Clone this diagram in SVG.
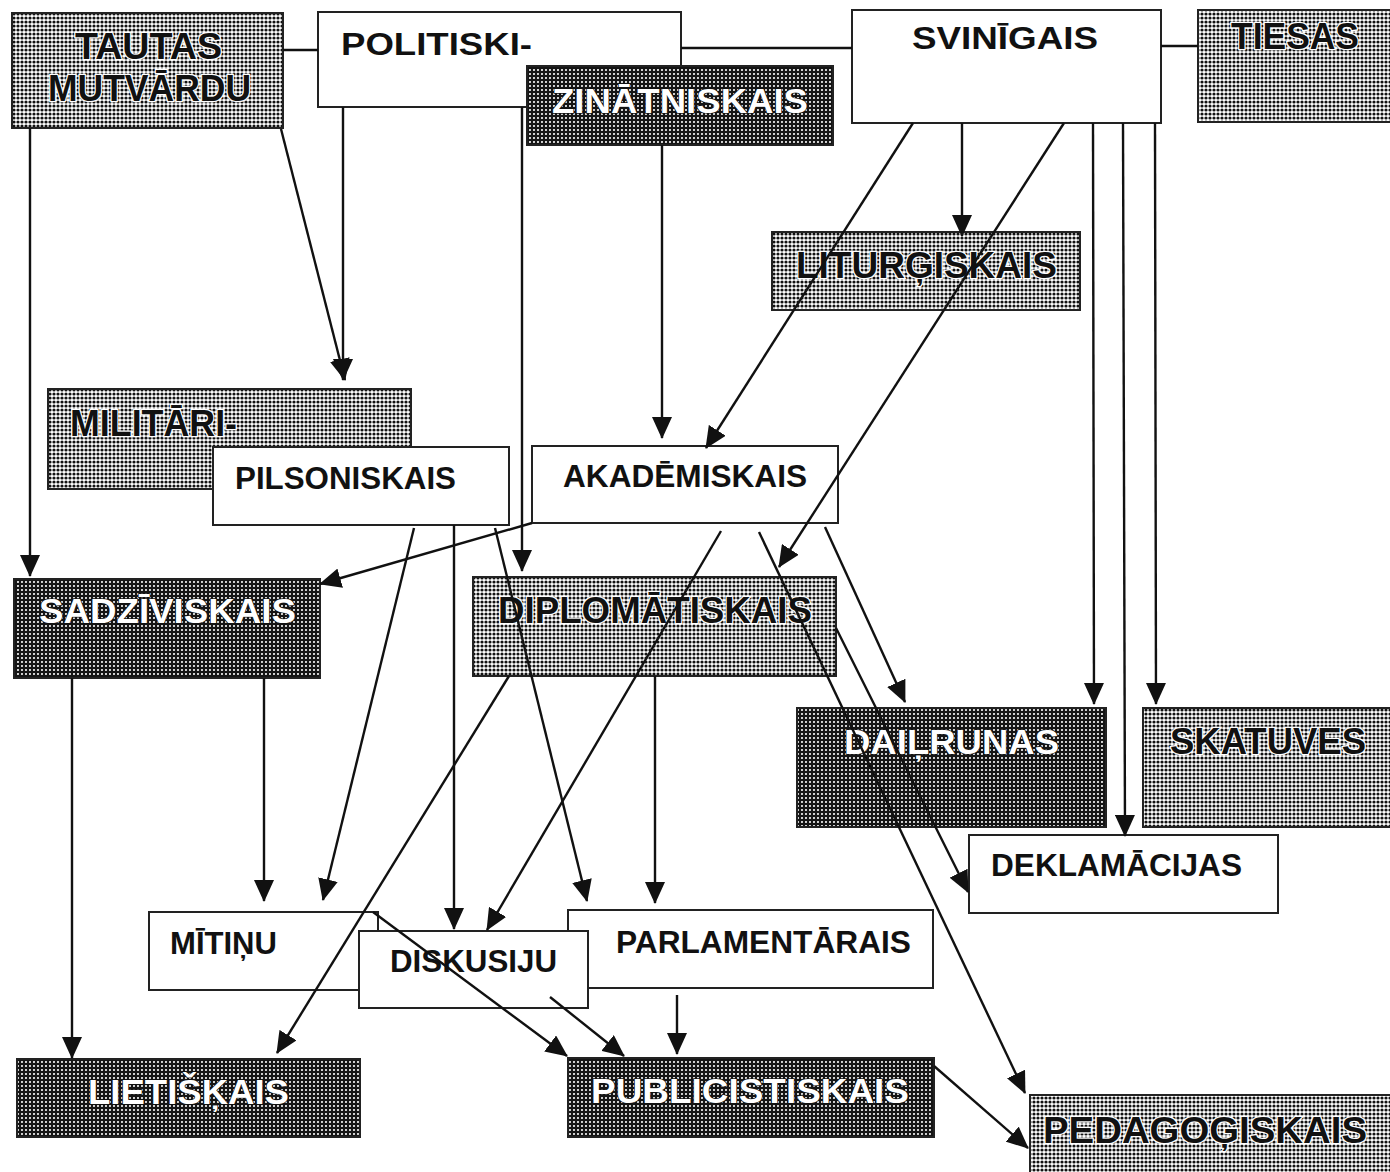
<svg xmlns="http://www.w3.org/2000/svg" width="1390" height="1172" viewBox="0 0 1390 1172">
<defs>
<pattern id="dotsL" width="4" height="4" patternUnits="userSpaceOnUse"><rect width="4" height="4" fill="#fff"/><circle cx="2" cy="2" r="1.6" fill="#111"/></pattern>
<pattern id="dotsD" width="4" height="4" patternUnits="userSpaceOnUse"><rect width="4" height="4" fill="#151515"/><circle cx="2" cy="2" r="1.05" fill="#fff"/></pattern>
<marker id="ah" markerUnits="userSpaceOnUse" markerWidth="22" markerHeight="20" viewBox="0 0 22 20" refX="21" refY="10" orient="auto"><path d="M0,0 L22,10 L0,20 z" fill="#111"/></marker>
</defs>
<style>
.w{fill:#fff;stroke:#222;stroke-width:2}
.l{fill:url(#dotsL);stroke:#222;stroke-width:2}
.d{fill:url(#dotsD);stroke:#222;stroke-width:2}
text{font-family:"Liberation Sans",Arial,sans-serif;font-weight:bold}
.tw{fill:#111;font-size:31px}
.tl{fill:#111;font-size:37px;stroke:#fff;stroke-width:2.5;paint-order:stroke}
.td{fill:#fff;font-size:35px;stroke:#111;stroke-width:1.5;paint-order:stroke}
.c line{stroke:#111;stroke-width:2.4}
.c .a{marker-end:url(#ah)}
</style>
<rect width="1390" height="1172" fill="#fff"/>
<g id="tautas"><rect class="l" x="12" y="13" width="271" height="115"/><text class="tl" x="75" y="59" textLength="147" lengthAdjust="spacingAndGlyphs">TAUTAS</text><text class="tl" x="48" y="101" textLength="203" lengthAdjust="spacingAndGlyphs">MUTVĀRDU</text></g>
<g id="politiski"><rect class="w" x="318" y="12" width="363" height="95"/><text class="tw" x="341" y="55" textLength="191" lengthAdjust="spacingAndGlyphs">POLITISKI-</text></g>
<g id="zinatniskais"><rect class="d" x="527" y="66" width="306" height="79"/><text class="td" x="552" y="113" textLength="256" lengthAdjust="spacingAndGlyphs">ZINĀTNISKAIS</text></g>
<g id="svinigais"><rect class="w" x="852" y="10" width="309" height="113"/><text class="tw" x="912" y="49" textLength="186" lengthAdjust="spacingAndGlyphs">SVINĪGAIS</text></g>
<g id="tiesas"><rect class="l" x="1198" y="10" width="200" height="112"/><text class="tl" x="1231" y="49" textLength="128" lengthAdjust="spacingAndGlyphs">TIESAS</text></g>
<g id="liturgiskais"><rect class="l" x="772" y="232" width="308" height="78"/><text class="tl" x="796" y="278" textLength="261" lengthAdjust="spacingAndGlyphs">LITURĢISKAIS</text></g>
<g id="militari"><rect class="l" x="48" y="389" width="363" height="100"/><text class="tl" x="70" y="436" textLength="167" lengthAdjust="spacingAndGlyphs">MILITĀRI-</text></g>
<g id="pilsoniskais"><rect class="w" x="213" y="447" width="296" height="78"/><text class="tw" x="235" y="489" textLength="221" lengthAdjust="spacingAndGlyphs">PILSONISKAIS</text></g>
<g id="akademiskais"><rect class="w" x="532" y="446" width="306" height="77"/><text class="tw" x="563" y="487" textLength="244" lengthAdjust="spacingAndGlyphs">AKADĒMISKAIS</text></g>
<g id="sadziviskais"><rect class="d" x="14" y="579" width="306" height="99"/><text class="td" x="39" y="623" textLength="257" lengthAdjust="spacingAndGlyphs">SADZĪVISKAIS</text></g>
<g id="diplomatiskais"><rect class="l" x="473" y="577" width="363" height="99"/><text class="tl" x="498" y="623" textLength="314" lengthAdjust="spacingAndGlyphs">DIPLOMĀTISKAIS</text></g>
<g id="dailrunas"><rect class="d" x="797" y="708" width="309" height="119"/><text class="td" x="844" y="754" textLength="215" lengthAdjust="spacingAndGlyphs">DAIĻRUNAS</text></g>
<g id="skatuves"><rect class="l" x="1143" y="708" width="255" height="119"/><text class="tl" x="1170" y="754" textLength="196" lengthAdjust="spacingAndGlyphs">SKATUVES</text></g>
<g id="deklamacijas"><rect class="w" x="969" y="835" width="309" height="78"/><text class="tw" x="991" y="876" textLength="251" lengthAdjust="spacingAndGlyphs">DEKLAMĀCIJAS</text></g>
<g id="mitinu"><rect class="w" x="149" y="912" width="229" height="78"/><text class="tw" x="170" y="954" textLength="107" lengthAdjust="spacingAndGlyphs">MĪTIŅU</text></g>
<g id="parlamentarais"><rect class="w" x="568" y="910" width="365" height="78"/><text class="tw" x="616" y="953" textLength="295" lengthAdjust="spacingAndGlyphs">PARLAMENTĀRAIS</text></g>
<g id="diskusiju"><rect class="w" x="359" y="931" width="229" height="77"/><text class="tw" x="390" y="972" textLength="167" lengthAdjust="spacingAndGlyphs">DISKUSIJU</text></g>
<g id="lietiskais"><rect class="d" x="17" y="1059" width="343" height="78"/><text class="td" x="88" y="1104" textLength="201" lengthAdjust="spacingAndGlyphs">LIETIŠĶAIS</text></g>
<g id="publicistiskais"><rect class="d" x="568" y="1058" width="366" height="79"/><text class="td" x="591" y="1103" textLength="318" lengthAdjust="spacingAndGlyphs">PUBLICISTISKAIS</text></g>
<g id="pedagogiskais"><rect class="l" x="1030" y="1095" width="368" height="90"/><text class="tl" x="1043" y="1143" textLength="324" lengthAdjust="spacingAndGlyphs">PEDAGOĢISKAIS</text></g>
<g id="connectors" class="c">
<line x1="283" y1="50" x2="318" y2="50"/>
<line x1="681" y1="48" x2="852" y2="48"/>
<line x1="1161" y1="46" x2="1198" y2="46"/>
<line class="a" x1="30" y1="128" x2="30" y2="576"/>
<line class="a" x1="281" y1="129" x2="345" y2="380"/>
<line class="a" x1="343" y1="107" x2="343" y2="380"/>
<line class="a" x1="522" y1="107" x2="522" y2="571"/>
<line class="a" x1="662" y1="145" x2="662" y2="438"/>
<line class="a" x1="913" y1="123" x2="706" y2="448"/>
<line class="a" x1="962" y1="123" x2="962" y2="236"/>
<line class="a" x1="1064" y1="123" x2="779" y2="567"/>
<line class="a" x1="1093" y1="123" x2="1094" y2="704"/>
<line class="a" x1="1123" y1="123" x2="1125" y2="836"/>
<line class="a" x1="1155" y1="123" x2="1156" y2="704"/>
<line class="a" x1="532" y1="523" x2="320" y2="584"/>
<line class="a" x1="721" y1="531" x2="487" y2="930"/>
<line class="a" x1="759" y1="532" x2="1025" y2="1093"/>
<line class="a" x1="825" y1="527" x2="905" y2="702"/>
<line class="a" x1="836" y1="628" x2="968" y2="892"/>
<line class="a" x1="414" y1="528" x2="323" y2="900"/>
<line class="a" x1="454" y1="525" x2="454" y2="929"/>
<line class="a" x1="495" y1="528" x2="587" y2="901"/>
<line class="a" x1="72" y1="678" x2="72" y2="1058"/>
<line class="a" x1="264" y1="678" x2="264" y2="901"/>
<line class="a" x1="509" y1="676" x2="277" y2="1053"/>
<line class="a" x1="655" y1="676" x2="655" y2="903"/>
<line class="a" x1="373" y1="912" x2="567" y2="1056"/>
<line class="a" x1="550" y1="997" x2="624" y2="1056"/>
<line class="a" x1="677" y1="995" x2="677" y2="1054"/>
<line class="a" x1="934" y1="1066" x2="1028" y2="1148"/>
</g>
</svg>
